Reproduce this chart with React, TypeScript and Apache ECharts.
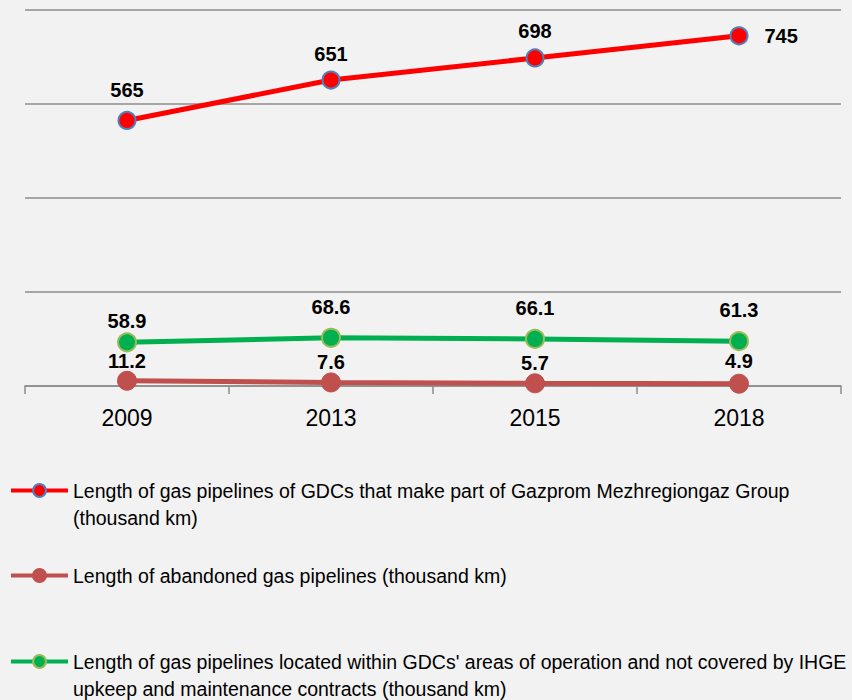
import React, { useEffect, useRef } from "react";
import * as echarts from "echarts";

const categories = ["2009", "2013", "2015", "2018"];
const gdcPipelines = [565, 651, 698, 745];
const abandonedPipelines = [11.2, 7.6, 5.7, 4.9];
const notCoveredPipelines = [58.9, 68.6, 66.1, 61.3];

const seriesNames = [
  "Length of gas pipelines of GDCs that make part of Gazprom Mezhregiongaz Group (thousand km)",
  "Length of abandoned gas pipelines (thousand km)",
  "Length of gas pipelines located within GDCs' areas of operation and not covered by IHGE upkeep and maintenance contracts (thousand km)",
];
const legendTexts = [
  "\nLength of gas pipelines of GDCs that make part of Gazprom Mezhregiongaz Group\n(thousand km)",
  "Length of abandoned gas pipelines (thousand km)",
  "\nLength of gas pipelines located within GDCs' areas of operation and not covered by IHGE\nupkeep and maintenance contracts (thousand km)",
];

const FONT = "'Liberation Sans', Arial, sans-serif";
const GRID_COLOR = "#8c8c8c";

export default function App() {
  const ref = useRef<HTMLDivElement>(null);

  useEffect(() => {
    document.body.style.margin = "0";
    document.body.style.background = "#f2f2f2";
    if (!ref.current) return;
    const chart = echarts.init(ref.current, null, { renderer: "svg" });

    const labelBase = {
      show: true,
      position: "top",
      color: "#000",
      fontFamily: FONT,
      fontWeight: "bold",
      fontSize: 20,
    };

    const legendFor = (i: number, top: number) => ({
      left: 9,
      top,
      orient: "vertical",
      padding: 0,
      itemWidth: 57,
      itemHeight: 16,
      selectedMode: false,
      data: [seriesNames[i]],
      formatter: () => legendTexts[i],
      lineStyle: { width: 4 },
      textStyle: {
        fontFamily: FONT,
        fontSize: 19.5,
        lineHeight: 27,
        color: "#000",
      },
    });

    chart.setOption({
      animation: false,
      backgroundColor: "#f2f2f2",
      grid: { left: 25, right: 11, top: 10, bottom: 314, containLabel: false },
      xAxis: {
        type: "category",
        data: categories,
        boundaryGap: true,
        axisLine: { lineStyle: { color: GRID_COLOR, width: 1.5 } },
        axisTick: { show: true, length: 8, lineStyle: { color: GRID_COLOR, width: 1.5 } },
        axisLabel: { color: "#000", fontFamily: FONT, fontSize: 23, margin: 20 },
      },
      yAxis: [
        {
          type: "value",
          min: 0,
          max: 800,
          interval: 200,
          axisLabel: { show: false },
          axisLine: { show: false },
          axisTick: { show: false },
          splitLine: { lineStyle: { color: GRID_COLOR, width: 1.5 } },
        },
        {
          type: "value",
          min: -34,
          max: 766,
          show: false,
          splitLine: { show: false },
        },
      ],
      legend: [legendFor(0, 450), legendFor(1, 562), legendFor(2, 621)],
      series: [
        {
          name: seriesNames[0],
          type: "line",
          yAxisIndex: 0,
          symbol: "circle",
          symbolSize: 17,
          lineStyle: { color: "#ff0000", width: 5 },
          itemStyle: { color: "#ff0000", borderColor: "#4f81bd", borderWidth: 2 },
          label: { ...labelBase, distance: 7 },
          data: gdcPipelines.map((v, i) =>
            i === gdcPipelines.length - 1
              ? { value: v, label: { position: "right", distance: 16 } }
              : i === 0
              ? { value: v, label: { distance: 11 } }
              : v
          ),
        },
        {
          name: seriesNames[1],
          type: "line",
          yAxisIndex: 0,
          symbol: "circle",
          symbolSize: 19,
          lineStyle: { color: "#c0504d", width: 5 },
          itemStyle: { color: "#c0504d", borderColor: "#c0504d", borderWidth: 1 },
          label: { ...labelBase, distance: 0 },
          data: abandonedPipelines.map((v, i) =>
            i === abandonedPipelines.length - 1 ? { value: v, label: { distance: 3 } } : v
          ),
        },
        {
          name: seriesNames[2],
          type: "line",
          yAxisIndex: 1,
          symbol: "circle",
          symbolSize: 18,
          lineStyle: { color: "#00b050", width: 5 },
          itemStyle: { color: "#00b050", borderColor: "#9bbb59", borderWidth: 2 },
          label: { ...labelBase, distance: 11 },
          data: notCoveredPipelines.map((v, i) =>
            i === 0 ? { value: v, label: { distance: 1 } } : v
          ),
        },
      ],
    });

    return () => chart.dispose();
  }, []);

  return <div ref={ref} style={{ width: 852, height: 700 }} />;
}
